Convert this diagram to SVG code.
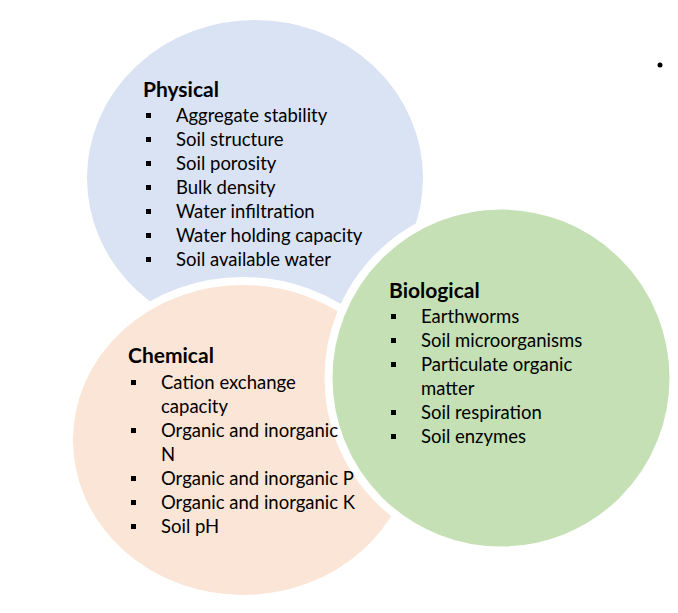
<svg xmlns="http://www.w3.org/2000/svg" width="678" height="613" viewBox="0 0 678 613">
<style>
.t{font-family:Lato,"Liberation Sans",sans-serif;font-weight:bold;font-size:21px;fill:#000}
.i{font-family:Lato,"Liberation Sans",sans-serif;font-size:18.5px;fill:#000}
.b{fill:#000}
.c{stroke:#fff;stroke-width:8}
</style>
<defs><rect id="sq" width="5" height="5" class="b"/></defs>
<rect width="678" height="613" fill="#fff"/>
<g id="physical">
<ellipse class="c" cx="255" cy="178" rx="172" ry="162" fill="#DAE3F3"/>
</g>
<g id="chemical">
<ellipse class="c" cx="243" cy="440" rx="174" ry="159" fill="#FBE5D6"/>
</g>
<g id="biological">
<ellipse class="c" cx="501" cy="378" rx="172.5" ry="172.5" fill="#C5E0B4"/>
</g>
<g id="physical-text">
<text class="t" x="143" y="97">Physical</text>
<use href="#sq" x="146" y="113"/><text class="i" x="176" y="122">Aggregate stability</text>
<use href="#sq" x="146" y="137"/><text class="i" x="176" y="146">Soil structure</text>
<use href="#sq" x="146" y="161"/><text class="i" x="176" y="170">Soil porosity</text>
<use href="#sq" x="146" y="185"/><text class="i" x="176" y="194">Bulk density</text>
<use href="#sq" x="146" y="209"/><text class="i" x="176" y="218">Water infiltration</text>
<use href="#sq" x="146" y="233"/><text class="i" x="176" y="242">Water holding capacity</text>
<use href="#sq" x="146" y="257"/><text class="i" x="176" y="266">Soil available water</text>
</g>
<g id="chemical-text">
<text class="t" x="128" y="363">Chemical</text>
<use href="#sq" x="131" y="380"/><text class="i" x="161" y="389">Cation exchange</text>
<text class="i" x="161" y="413">capacity</text>
<use href="#sq" x="131" y="428"/><text class="i" x="161" y="437">Organic and inorganic</text>
<text class="i" x="161" y="461">N</text>
<use href="#sq" x="131" y="476"/><text class="i" x="161" y="485">Organic and inorganic P</text>
<use href="#sq" x="131" y="500"/><text class="i" x="161" y="509">Organic and inorganic K</text>
<use href="#sq" x="131" y="524"/><text class="i" x="161" y="533">Soil pH</text>
</g>
<g id="biological-text">
<text class="t" x="389" y="298">Biological</text>
<use href="#sq" x="391" y="314"/><text class="i" x="421" y="323">Earthworms</text>
<use href="#sq" x="391" y="338"/><text class="i" x="421" y="347">Soil microorganisms</text>
<use href="#sq" x="391" y="362"/><text class="i" x="421" y="371">Particulate organic</text>
<text class="i" x="421" y="395">matter</text>
<use href="#sq" x="391" y="410"/><text class="i" x="421" y="419">Soil respiration</text>
<use href="#sq" x="391" y="434"/><text class="i" x="421" y="443">Soil enzymes</text>
</g>
<g id="connectors"></g>
<circle cx="660" cy="65" r="2.5" fill="#000"/>
</svg>
